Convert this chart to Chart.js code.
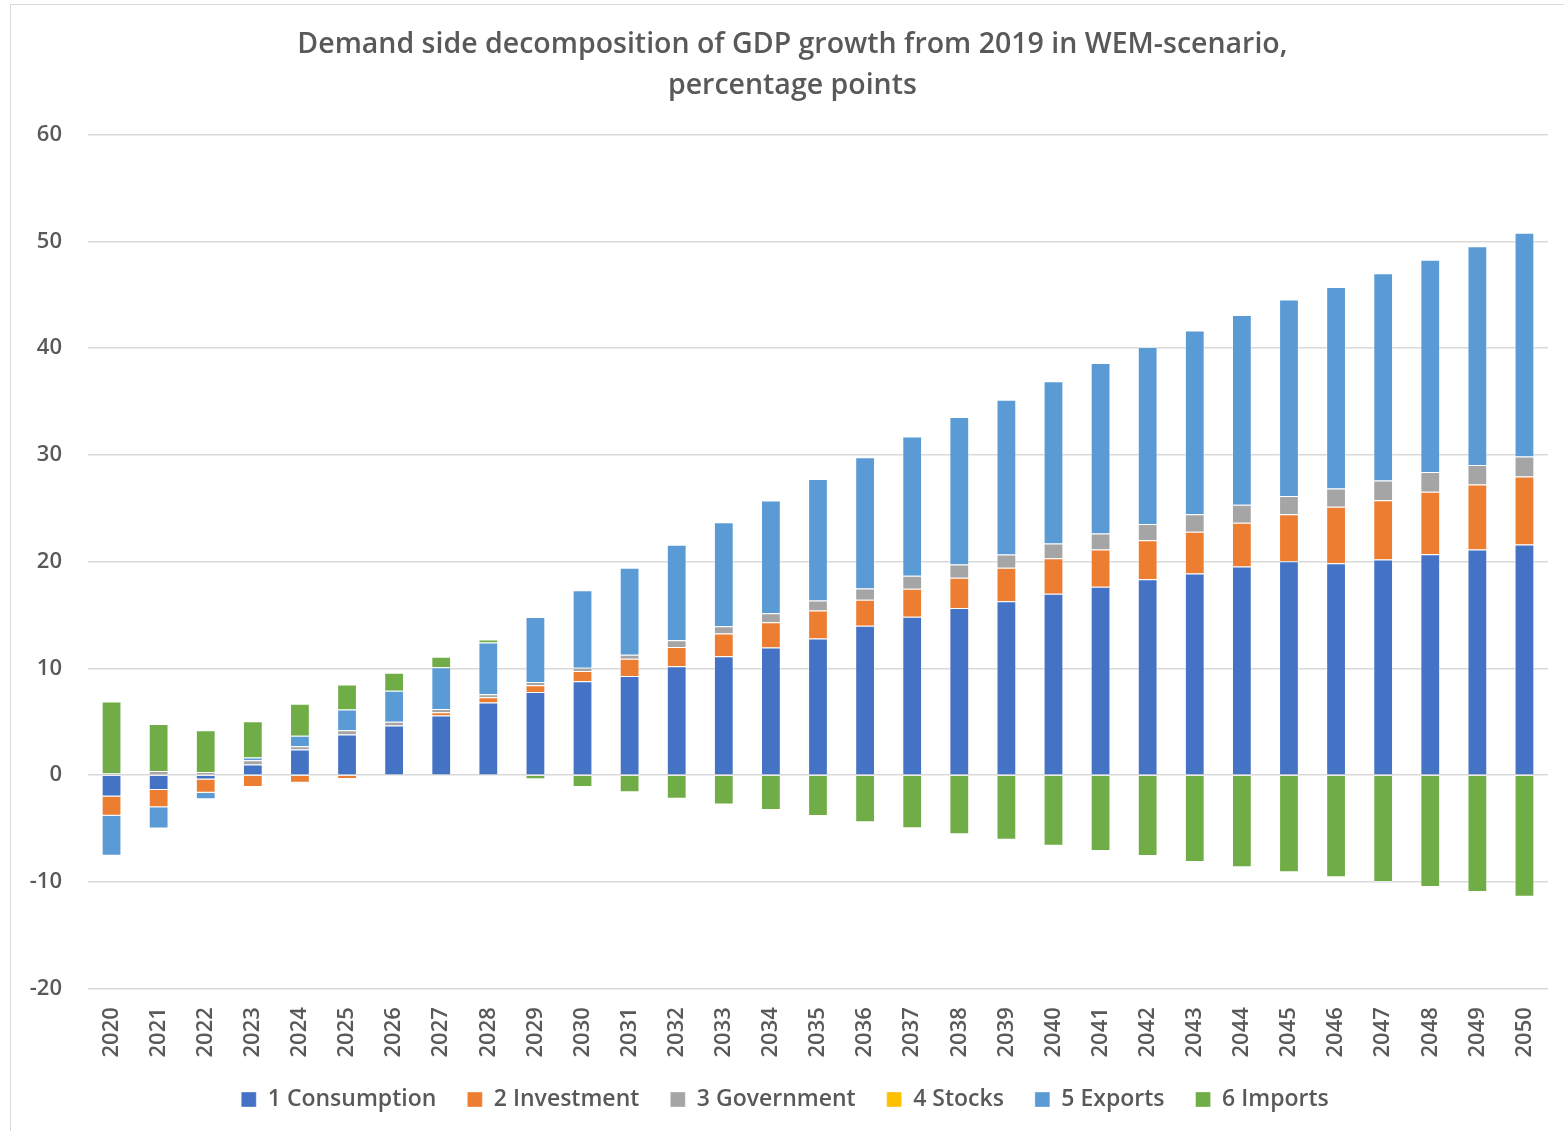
<!DOCTYPE html>
<html>
<head>
<meta charset="utf-8">
<script src="https://cdn.jsdelivr.net/npm/chart.js@4/dist/chart.umd.min.js"></script>
<style>
    html, body { margin: 0; padding: 0; background: #ffffff; }
    #wrap { width: 1564px; height: 1131px; position: relative; }
</style>
</head>
<body>
<div id="wrap"><canvas id="gdpChart"></canvas></div>
<script>
const years = ['2020', '2021', '2022', '2023', '2024', '2025', '2026', '2027', '2028', '2029',
    '2030', '2031', '2032', '2033', '2034', '2035', '2036', '2037', '2038', '2039',
    '2040', '2041', '2042', '2043', '2044', '2045', '2046', '2047', '2048', '2049', '2050'];

const consumption = [-2.0, -1.4, -0.4, 1.0, 2.4, 3.8, 4.65, 5.6, 6.8, 7.8,
    8.8, 9.3, 10.2, 11.15, 11.95, 12.8, 14.0, 14.85, 15.65, 16.3,
    17.0, 17.65, 18.35, 18.9, 19.55, 20.05, 19.85, 20.2, 20.7, 21.15, 21.6];
const investment = [-1.8, -1.6, -1.25, -1.1, -0.7, -0.35, 0.0, 0.3, 0.5, 0.62,
    0.97, 1.6, 1.8, 2.12, 2.37, 2.62, 2.43, 2.62, 2.84, 3.12,
    3.33, 3.49, 3.66, 3.9, 4.1, 4.38, 5.29, 5.56, 5.84, 6.09, 6.38];
const government = [0.2, 0.4, 0.3, 0.4, 0.3, 0.4, 0.35, 0.3, 0.28, 0.3,
    0.3, 0.37, 0.63, 0.69, 0.84, 0.94, 1.06, 1.22, 1.25, 1.24,
    1.37, 1.5, 1.53, 1.63, 1.68, 1.72, 1.71, 1.85, 1.85, 1.81, 1.87];
const stocks = [0, 0, 0, 0, 0, 0, 0, 0, 0, 0,
    0, 0, 0, 0, 0, 0, 0, 0, 0, 0,
    0, 0, 0, 0, 0, 0, 0, 0, 0, 0, 0];
const exportsData = [-3.75, -2.0, -0.6, 0.25, 1.0, 1.95, 2.9, 3.9, 4.84, 6.1,
    7.25, 8.15, 8.95, 9.73, 10.57, 11.38, 12.29, 13.03, 13.8, 14.5,
    15.2, 15.96, 16.56, 17.22, 17.78, 18.4, 18.88, 19.4, 19.9, 20.5, 20.97];
const importsData = [6.7, 4.4, 3.9, 3.4, 3.0, 2.35, 1.7, 1.0, 0.3, -0.37,
    -1.1, -1.6, -2.2, -2.75, -3.27, -3.82, -4.42, -4.98, -5.54, -6.05,
    -6.6, -7.1, -7.56, -8.13, -8.63, -9.09, -9.56, -10.0, -10.47, -10.94, -11.38];

const yTicks = [-20, -10, 0, 10, 20, 30, 40, 50, 60];

const textColor = '#595959';
const fontFamily = "'Open Sans', 'Noto Sans', sans-serif";

// light frame round the whole chart, like the office chart area border
const frame = {
    id: 'frame',
    beforeDraw(chart) {
        const c = chart.ctx;
        c.save();
        c.strokeStyle = '#d9d9d9';
        c.lineWidth = 1;
        c.strokeRect(10.5, 4.5, 1570, 1150);
        c.restore();
    }
};

const series = [
    { label: '1 Consumption', data: consumption, color: '#4472C4' },
    { label: '2 Investment', data: investment, color: '#ED7D31' },
    { label: '3 Government', data: government, color: '#A5A5A5' },
    { label: '4 Stocks', data: stocks, color: '#FFC000' },
    { label: '5 Exports', data: exportsData, color: '#5B9BD5' },
    { label: '6 Imports', data: importsData, color: '#70AD47' }
];

const ctx = document.getElementById('gdpChart').getContext('2d');
new Chart(ctx, {
    type: 'bar',
    data: {
        labels: years,
        datasets: series.map(s => ({
            label: s.label,
            data: s.data,
            backgroundColor: s.color,
            borderColor: 'rgba(255, 255, 255, 0.35)',
            borderWidth: 1,
            barPercentage: 0.42,
            categoryPercentage: 1.0
        }))
    },
    options: {
        responsive: true,
        maintainAspectRatio: false,
        animation: false,
        layout: {
            padding: { left: 22, right: 16, top: 0, bottom: 10 }
        },
        scales: {
            x: {
                stacked: true,
                grid: { display: false },
                border: { display: false },
                afterFit(axis) {
                    axis.height -= 11;
                },
                ticks: {
                    color: textColor,
                    minRotation: 90,
                    maxRotation: 90,
                    padding: 10.5,
                    font: { size: 22, weight: '600', family: fontFamily }
                }
            },
            y: {
                stacked: true,
                min: -20,
                max: 60,
                afterBuildTicks(axis) {
                    axis.ticks = yTicks.map(v => ({ value: v }));
                },
                afterFit(axis) {
                    axis.width = 66;
                },
                grid: { color: '#d9d9d9', lineWidth: 1.5, drawTicks: false },
                border: { display: false },
                ticks: {
                    color: textColor,
                    padding: 26,
                    font: { size: 22, weight: '600', family: fontFamily }
                }
            }
        },
        plugins: {
            title: {
                display: true,
                text: ['  Demand side decomposition of GDP growth from 2019 in WEM-scenario,', '  percentage points'],
                color: textColor,
                font: { size: 28.5, weight: '600', family: fontFamily, lineHeight: 1.45 },
                padding: { top: 24, bottom: 28 }
            },
            legend: {
                position: 'bottom',
                labels: {
                    color: textColor,
                    boxWidth: 15,
                    boxHeight: 15,
                    padding: 31,
                    font: { size: 23, weight: '600', family: fontFamily }
                }
            },
            tooltip: { enabled: false }
        }
    },
    plugins: [frame]
});
</script>
</body>
</html>
